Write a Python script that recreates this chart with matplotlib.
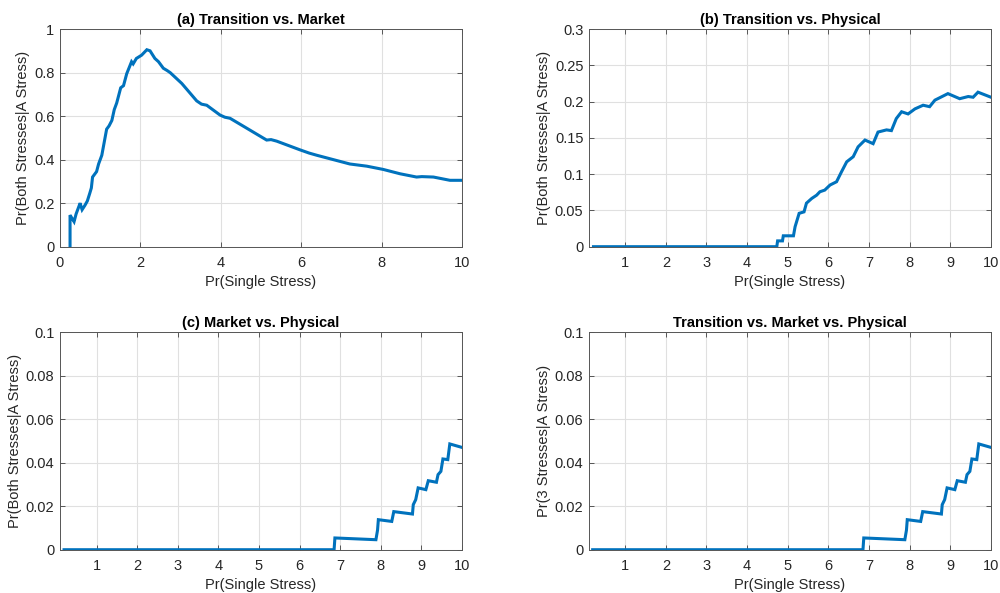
import matplotlib.pyplot as plt
from matplotlib.ticker import FuncFormatter

plt.rcParams["font.family"] = ["Liberation Sans", "DejaVu Sans"]

# (a) Transition vs. Market
a_x = [0.25, 0.25, 0.30, 0.35, 0.40, 0.46, 0.50, 0.55, 0.62, 0.68, 0.74, 0.78, 0.81, 0.91,
       0.96, 1.00, 1.04, 1.08, 1.16, 1.22, 1.29, 1.35, 1.41, 1.51, 1.58, 1.66, 1.78, 1.82,
       1.90, 2.03, 2.16, 2.24, 2.36, 2.45, 2.57, 2.66, 2.74, 3.03, 3.40, 3.52, 3.65, 3.98,
       4.10, 4.23, 4.64, 5.14, 5.25, 5.39, 5.97, 6.20, 6.39, 6.80, 7.21, 7.63, 8.04,
       8.46, 8.87, 9.00, 9.29, 9.70, 10.0]
a_y = [0.0, 0.145, 0.13, 0.115, 0.15, 0.18, 0.20, 0.17, 0.19, 0.21, 0.245, 0.27, 0.32, 0.345,
       0.38, 0.40, 0.42, 0.46, 0.54, 0.555, 0.58, 0.63, 0.66, 0.73, 0.74, 0.795, 0.85, 0.84,
       0.865, 0.88, 0.905, 0.90, 0.865, 0.85, 0.82, 0.81, 0.80, 0.75, 0.67, 0.655, 0.65, 0.605,
       0.595, 0.59, 0.545, 0.49, 0.492, 0.485, 0.445, 0.43, 0.42, 0.40, 0.38, 0.37, 0.355,
       0.335, 0.32, 0.322, 0.32, 0.305, 0.305]

# (b) Transition vs. Physical
b_x = [0.22, 4.73, 4.75, 4.87, 4.89, 5.14, 5.18, 5.28, 5.40, 5.46, 5.59, 5.71, 5.79,
       5.91, 6.04, 6.20, 6.32, 6.45, 6.61, 6.73, 6.90, 7.10, 7.22, 7.43, 7.55, 7.67,
       7.80, 7.96, 8.13, 8.33, 8.49, 8.62, 8.94, 9.23, 9.44, 9.56, 9.68, 10.0]
b_y = [0.0, 0.0, 0.008, 0.008, 0.015, 0.015, 0.0275, 0.046, 0.048, 0.06, 0.0665, 0.071,
       0.0757, 0.078, 0.085, 0.0895, 0.103, 0.117, 0.124, 0.1376, 0.147, 0.142, 0.158,
       0.161, 0.16, 0.1766, 0.186, 0.183, 0.19, 0.195, 0.193, 0.202, 0.211, 0.204, 0.207,
       0.206, 0.213, 0.206]

# (c) Market vs. Physical, and the three-way case (same curve)
c_x = [0.20, 6.85, 6.87, 7.88, 7.92, 7.94, 8.27, 8.32, 8.78, 8.80, 8.86, 8.92, 9.11,
       9.17, 9.37, 9.41, 9.48, 9.53, 9.65, 9.70, 10.0]
c_y = [0.0, 0.0, 0.0054, 0.0046, 0.009, 0.0138, 0.013, 0.0175, 0.0164, 0.0207, 0.023,
       0.0284, 0.0276, 0.0317, 0.031, 0.0345, 0.036, 0.0417, 0.0414, 0.0486, 0.047]
d_x = c_x
d_y = c_y

titles = ["(a) Transition vs. Market", "(b) Transition vs. Physical",
          "(c) Market vs. Physical", "Transition vs. Market vs. Physical"]
ylabels = ["Pr(Both Stresses|A Stress)", "Pr(Both Stresses|A Stress)",
           "Pr(Both Stresses|A Stress)", "Pr(3 Stresses|A Stress)"]
xlabel = "Pr(Single Stress)"

fig = plt.figure(figsize=(10, 5.93), dpi=100)
w, h = 0.402, 0.367
pos = [[0.060, 0.584, w, h], [0.589, 0.584, w, h],
       [0.060, 0.073, w, h], [0.589, 0.073, w, h]]
series = [(a_x, a_y), (b_x, b_y), (c_x, c_y), (d_x, d_y)]
xlims = [(0, 10), (0.11, 10), (0.1, 10), (0.11, 10)]
ylims = [(0, 1), (0, 0.3), (0, 0.1), (0, 0.1)]
xticks = [range(0, 11, 2), range(1, 11), range(1, 11), range(1, 11)]
yticks = [[0, 0.2, 0.4, 0.6, 0.8, 1], [0, 0.05, 0.1, 0.15, 0.2, 0.25, 0.3],
          [0, 0.02, 0.04, 0.06, 0.08, 0.1], [0, 0.02, 0.04, 0.06, 0.08, 0.1]]

fmt = FuncFormatter(lambda v, p: "%g" % round(v, 4))
edge = "#555555"
txt = "#262626"

for i in range(4):
    ax = fig.add_axes(pos[i])
    x, y = series[i]
    ax.plot(x, y, color="#0072BD", lw=2.2, solid_joinstyle="miter")
    ax.set_xlim(*xlims[i])
    ax.set_ylim(*ylims[i])
    ax.set_xticks(list(xticks[i]))
    ax.set_yticks(yticks[i])
    ax.xaxis.set_major_formatter(fmt)
    ax.yaxis.set_major_formatter(fmt)
    ax.grid(True, color="#e0e0e0", lw=0.8)
    ax.set_axisbelow(True)
    ax.tick_params(direction="in", top=True, right=True, length=3.5, width=0.7,
                   color=edge, labelcolor=txt, labelsize=10.5)
    ax.tick_params(axis="x", pad=7)
    ax.tick_params(axis="y", pad=4)
    for s in ax.spines.values():
        s.set_color(edge)
        s.set_linewidth(0.7)
    ax.set_title(titles[i], fontsize=10.5, fontweight="bold", pad=4)
    ax.set_xlabel(xlabel, fontsize=10.5, color=txt, labelpad=3)
    ax.set_ylabel(ylabels[i], fontsize=10.5, color=txt, labelpad=3)

fig.savefig("out.png", dpi=100)
